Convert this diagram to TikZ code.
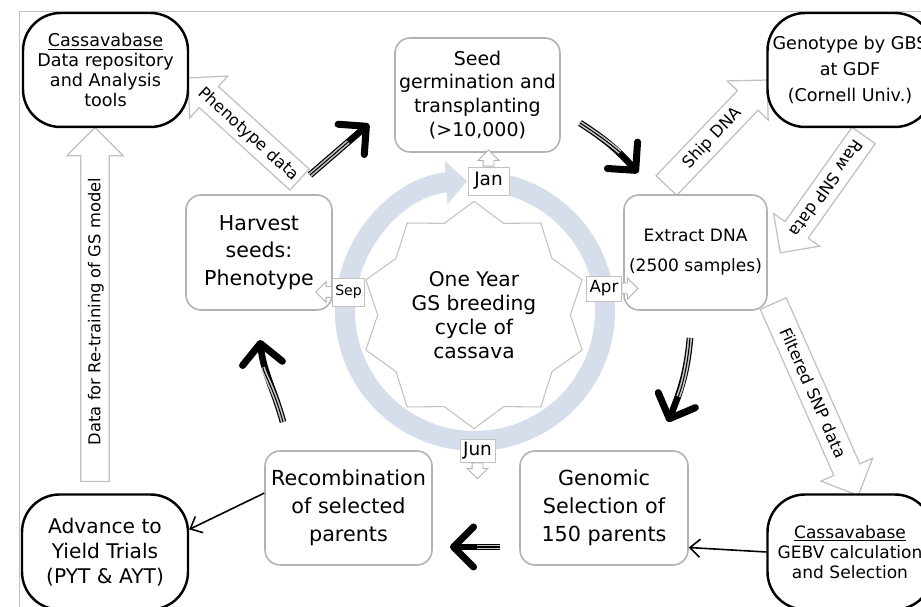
\documentclass[tikz,border=0pt]{standalone}
\usepackage{fontspec}
\setmainfont{DejaVu Sans}
\usetikzlibrary{arrows.meta,shapes.arrows,shapes.geometric,positioning,calc}

\definecolor{ringblue}{RGB}{214,222,236}
\definecolor{boxgray}{RGB}{178,178,178}
\definecolor{arrgray}{RGB}{192,192,192}

\tikzset{
  stepbox/.style={draw=boxgray, line width=0.9pt, rounded corners=0.3cm, fill=white, align=center, inner sep=2pt},
  termbox/.style={draw=black, line width=1.4pt, rounded corners=0.75cm, fill=white, align=center, inner sep=2pt},
  month/.style={draw=boxgray!80, line width=0.5pt, fill=white, inner sep=1.5pt, font=\fontsize{9.5}{10}\selectfont},
  tinyarrow/.style={single arrow, draw=boxgray, line width=0.5pt, fill=white, inner xsep=0pt, inner ysep=0.1cm, minimum height=0.32cm, single arrow head extend=0.1cm, anchor=tail},
  blockarrow/.style={single arrow, draw=arrgray, line width=0.7pt, fill=white, font=\fontsize{9.3}{10}\selectfont, text height=1.5ex, text depth=0.4ex, inner ysep=0.09cm, inner xsep=1pt, single arrow head extend=0.28cm, anchor=tail},
  ringline/.style={draw=ringblue, line width=0.4cm, -{Triangle[length=0.42cm, width=0.85cm]}},
  cyclearrow/.style={line width=3.8pt, -{Straight Barb[length=0.4cm, width=0.8cm, line width=4pt, round]},
    postaction={draw=gray!45, line width=2.4pt, -, shorten >=0.55cm},
    postaction={draw=black, line width=0.6pt, -, shorten >=0.55cm}},
  flow/.style={line width=0.9pt, -{Straight Barb[length=0.2cm, width=0.36cm]}},
}

\begin{document}
\begin{tikzpicture}[x=0.02cm, y=0.02cm]
  \useasboundingbox (0,0) rectangle (921,607);
  \draw[gray!50, line width=0.5pt] (19,0) -- (19,596) -- (921,596);

  % year cycle in the middle
  \draw[ringline] (475,296) ++(84:130) arc[start angle=84, end angle=-266.5, radius=130];
  \node[star, star points=10, star point ratio=1.18, minimum size=4.3cm, draw=boxgray!80, line width=0.6pt, align=center, font=\fontsize{11.5}{13.6}\selectfont] (core) at (474,292) {One Year\\GS breeding\\cycle of\\cassava};

  % data flows
  \node[blockarrow, rotate=-42.3, shape border rotate=180, minimum height=3.02cm] (phenoData) at (300,427) {Phenotype data};
  \node[blockarrow, rotate=46.3, minimum height=2.92cm] (shipDna) at (666,421) {Ship DNA};
  \node[blockarrow, rotate=234.6, minimum height=2.88cm] (rawSnp) at (864,472) {Raw SNP data};
  \node[blockarrow, rotate=-66.1, minimum height=4.2cm] (filtSnp) at (773,304) {Filtered SNP data};
  \node[blockarrow, rotate=90, minimum height=7.08cm] (retrain) at (95,125) {Data for Re-training of GS model};

  % steps of the cycle
  \node[stepbox, minimum width=3.3cm, minimum height=2.28cm, font=\fontsize{10.8}{13.6}\selectfont] (seed) at (477.5,512) {Seed\\germination and\\transplanting\\(>10,000)};
  \node[stepbox, minimum width=2.86cm, minimum height=2.3cm, font=\fontsize{9.7}{17}\selectfont] (extract) at (695.5,354.5) {Extract DNA\\(2500 samples)};
  \node[stepbox, minimum width=3.36cm, minimum height=2.28cm, font=\fontsize{11.8}{15.9}\selectfont] (genomic) at (604,99) {Genomic\\Selection of\\150 parents};
  \node[stepbox, minimum width=3.34cm, minimum height=2.28cm, font=\fontsize{11.8}{15.9}\selectfont] (recomb) at (348.5,99) {Recombination\\of selected\\parents};
  \node[stepbox, minimum width=2.92cm, minimum height=2.3cm, font=\fontsize{11.7}{15.6}\selectfont] (harvest) at (259,354.5) {Harvest\\seeds:\\Phenotype};

  % outside partners
  \node[termbox, minimum width=3.3cm, minimum height=2.28cm, font=\fontsize{10}{11.5}\selectfont] (cbTop) at (105.5,537) {\underline{Cassavabase}\\Data repository\\and Analysis\\tools};
  \node[termbox, minimum width=3.3cm, minimum height=2.28cm, font=\fontsize{10}{15}\selectfont] (geno) at (850,537) {Genotype by GBS\\at GDF\\(Cornell Univ.)};
  \node[termbox, minimum width=3.3cm, minimum height=2.3cm, font=\fontsize{9.7}{11.5}\selectfont] (cbBR) at (850,55) {\underline{Cassavabase}\\GEBV calculation\\and Selection};
  \node[termbox, minimum width=3.32cm, minimum height=2.3cm, font=\fontsize{11.5}{14.2}\selectfont] (advance) at (105,55) {Advance to\\Yield Trials\\(PYT \& AYT)};

  % months
  \node[month, minimum width=0.82cm, minimum height=0.56cm, font=\fontsize{10.5}{11}\selectfont] (jan) at (488.5,426) {Jan};
  \node[month, minimum width=0.58cm, minimum height=0.56cm, font=\fontsize{8}{9}\selectfont] (sep) at (348.5,315) {Sep};
  \node[month, minimum width=0.6cm, minimum height=0.5cm] (apr) at (604,318.5) {Apr};
  \node[month, minimum width=0.7cm, minimum height=0.46cm, font=\fontsize{10.5}{11}\selectfont] (jun) at (477.5,156.5) {Jun};
  \node[tinyarrow, rotate=90] (janArr) at (jan.north) {};
  \node[tinyarrow, rotate=180] (sepArr) at (sep.west) {};
  \node[tinyarrow] (aprArr) at (apr.east) {};
  \node[tinyarrow, rotate=-90] (junArr) at (jun.south) {};

  % cycle arrows
  \coordinate (phA) at (310,432); \coordinate (phB) at (369,483);
  \coordinate (sdA) at (580,484); \coordinate (sdB) at (638,434);
  \coordinate (dlA) at (690,269); \coordinate (dlB) at (668,185);
  \coordinate (lfA) at (500,60);  \coordinate (lfB) at (450,60);
  \coordinate (upA) at (283,185); \coordinate (upB) at (260,267);
  \draw[cyclearrow] (phA) -- (phB);
  \draw[cyclearrow] (sdA) to[bend left=8] (sdB);
  \draw[cyclearrow] (dlA) to[out=-95, in=68] (dlB);
  \draw[cyclearrow] (lfA) -- (lfB);
  \draw[cyclearrow] (upA) to[out=105, in=-84] (upB);

  \draw[flow] (recomb.170) -- (advance.15);
  \draw[flow] (cbBR.west) -- (genomic.-25);
\end{tikzpicture}
\end{document}
